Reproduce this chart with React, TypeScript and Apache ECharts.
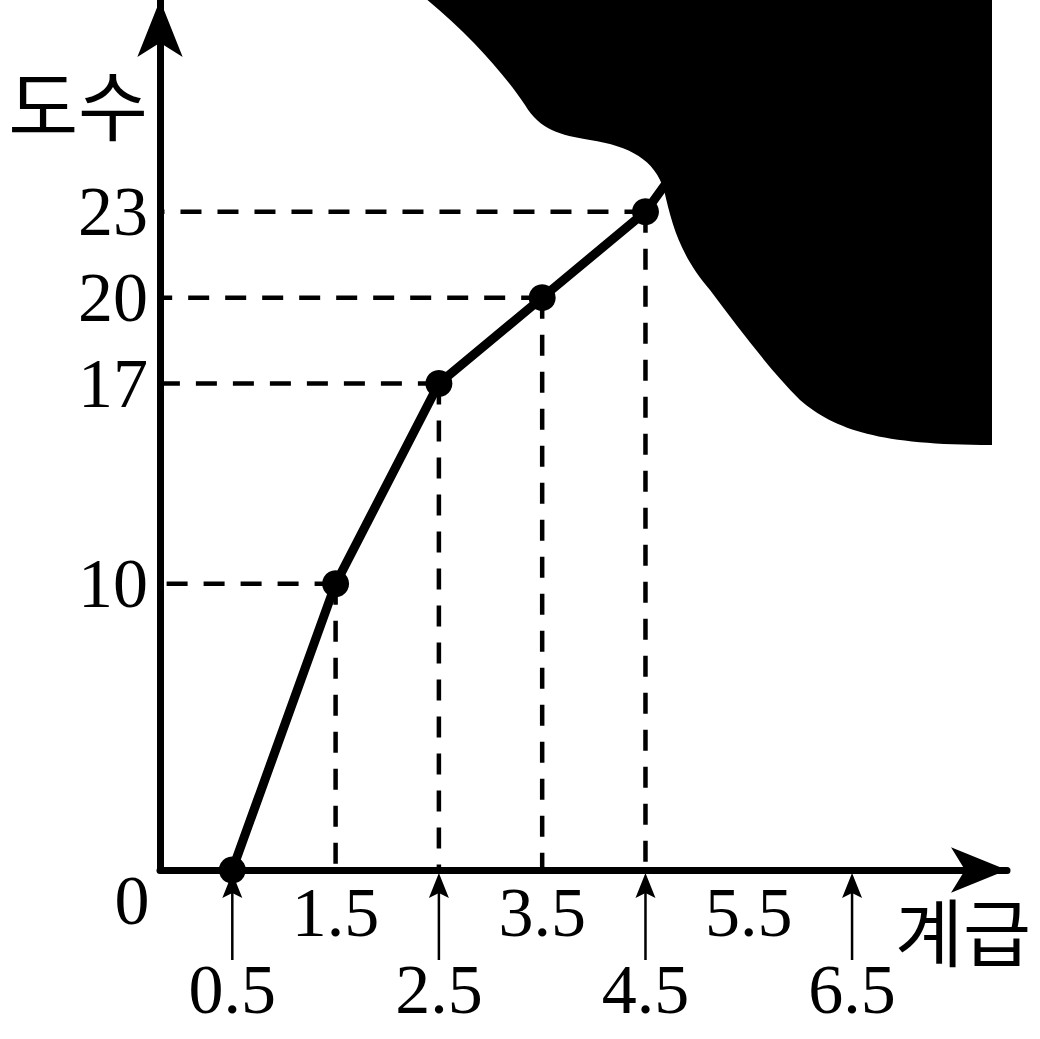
import React, { useEffect, useRef } from 'react';
import * as echarts from 'echarts';

// ---- data ----
const classBounds = [0.5, 1.5, 2.5, 3.5, 4.5, 5.5];
const cumulativeFreq = [0, 10, 17, 20, 23, 28]; // last point hidden under the ink blot
const guidedCount = 5; // points with dashed guide lines (visible ones)
const yTickLabels = [10, 17, 20, 23];
const xLabelsUpper = [1.5, 3.5, 5.5];
const xLabelsLower = [0.5, 2.5, 4.5, 6.5];
const arrowMarks = [0.5, 2.5, 4.5, 6.5];

const X_MIN = -0.2;
const X_MAX = 8.0;
const Y_MIN = 0;
const Y_MAX = 30.4;

const SERIF = '"Liberation Serif", "DejaVu Serif", serif';
const KR = '"Noto Sans CJK KR", sans-serif';

const BLOB_D =
  'M 425 -2 C 470 35, 505 75, 525 105 C 540 130, 560 135, 590 140 C 630 146, 655 160, 664 190 C 672 225, 680 255, 710 290 C 740 330, 770 370, 800 400 C 835 430, 880 445, 992 445 L 992 -2 Z';

echarts.graphic.registerShape('inkBlot', echarts.graphic.extendPath(BLOB_D, {}));

const r1 = (v: number) => Math.round(v * 10) / 10;

export default function App() {
  const ref = useRef<HTMLDivElement>(null);
  useEffect(() => {
    if (!ref.current) return;
    const chart = echarts.init(ref.current, null, { renderer: 'svg' });
    const lineData = classBounds.map((x, i) => [x, cumulativeFreq[i]]);
    const guideData = lineData.slice(0, guidedCount).filter((d) => d[1] > 0);

    const labelBase = { fontSize: 70, fontFamily: SERIF, color: '#000', verticalAlign: 'middle' as const };

    chart.setOption({
      animation: false,
      backgroundColor: '#fff',
      grid: { left: 160, top: 0, width: 847, height: 870, containLabel: false },
      xAxis: [
        {
          type: 'value',
          position: 'bottom',
          min: X_MIN,
          max: X_MAX,
          interval: 0.1,
          axisLine: {
            show: true,
            onZero: false,
            symbol: ['none', 'arrow'],
            symbolSize: [34, 56],
            lineStyle: { color: '#000', width: 7 },
          },
          axisTick: { show: false },
          splitLine: { show: false },
          axisLabel: {
            ...labelBase,
            margin: 42,
            formatter: (v: number) => (xLabelsUpper.includes(r1(v)) ? r1(v).toFixed(1) : ''),
          },
        },
        {
          type: 'value',
          position: 'bottom',
          offset: 0,
          min: X_MIN,
          max: X_MAX,
          interval: 0.1,
          axisLine: { show: false, onZero: false },
          axisTick: { show: false },
          splitLine: { show: false },
          axisLabel: {
            ...labelBase,
            margin: 119,
            formatter: (v: number) => (xLabelsLower.includes(r1(v)) ? r1(v).toFixed(1) : ''),
          },
        },
      ],
      yAxis: {
        type: 'value',
        min: Y_MIN,
        max: Y_MAX,
        interval: 1,
        axisLine: {
          show: true,
          onZero: false,
          symbol: ['none', 'arrow'],
          symbolSize: [34, 57],
          lineStyle: { color: '#000', width: 7 },
        },
        axisTick: { show: false },
        splitLine: { show: false },
        axisLabel: {
          ...labelBase,
          margin: 12,
          formatter: (v: number) =>
            yTickLabels.includes(Math.round(v)) && Math.abs(v - Math.round(v)) < 1e-6 ? String(Math.round(v)) : '',
        },
      },
      series: [
        {
          type: 'custom',
          coordinateSystem: 'cartesian2d',
          xAxisIndex: 0,
          clip: false,
          silent: true,
          data: guideData,
          encode: { x: 0, y: 1 },
          renderItem: (params: any, api: any) => {
            const p = api.coord([api.value(0), api.value(1)]);
            const o = api.coord([X_MIN, 0]);
            const style = { stroke: '#000', lineWidth: 4.5, lineDash: [21, 16], fill: null };
            return {
              type: 'group',
              children: [
                { type: 'line', shape: { x1: p[0], y1: p[1], x2: o[0] + 4, y2: p[1] }, style },
                { type: 'line', shape: { x1: p[0], y1: p[1], x2: p[0], y2: o[1] }, style },
              ],
            };
          },
        },
        {
          type: 'custom',
          coordinateSystem: 'cartesian2d',
          xAxisIndex: 0,
          clip: false,
          silent: true,
          data: arrowMarks.map((x) => [x, 0]),
          encode: { x: 0, y: 1 },
          renderItem: (params: any, api: any) => {
            const p = api.coord([api.value(0), 0]);
            return {
              type: 'group',
              children: [
                {
                  type: 'line',
                  shape: { x1: p[0], y1: p[1] + 20, x2: p[0], y2: p[1] + 90 },
                  style: { stroke: '#000', lineWidth: 2.5 },
                },
                {
                  type: 'polygon',
                  shape: {
                    points: [
                      [p[0], p[1] + 3],
                      [p[0] + 10, p[1] + 28],
                      [p[0], p[1] + 23],
                      [p[0] - 10, p[1] + 28],
                    ],
                  },
                  style: { fill: '#000' },
                },
              ],
            };
          },
        },
        {
          type: 'line',
          xAxisIndex: 0,
          data: lineData,
          symbol: 'circle',
          symbolSize: 27,
          showSymbol: true,
          itemStyle: { color: '#000' },
          lineStyle: { color: '#000', width: 9 },
          silent: true,
          z: 3,
        },
      ],
      graphic: [
        { type: 'inkBlot', x: 0, y: 0, z: 100, style: { fill: '#000' } },
        {
          type: 'text',
          x: 132,
          y: 900,
          style: { text: '0', font: `70px ${SERIF}`, fill: '#000', textAlign: 'center', textVerticalAlign: 'middle' },
        },
        {
          type: 'text',
          x: 148,
          y: 102,
          style: { text: '도수', font: `76px ${KR}`, fill: '#000', textAlign: 'right', textVerticalAlign: 'middle' },
        },
        {
          type: 'text',
          x: 963,
          y: 928,
          style: { text: '계급', font: `74px ${KR}`, fill: '#000', textAlign: 'center', textVerticalAlign: 'middle' },
        },
      ],
    });
    return () => chart.dispose();
  }, []);
  return <div ref={ref} style={{ position: 'fixed', left: 0, top: 0, width: 1040, height: 1039 }} />;
}
